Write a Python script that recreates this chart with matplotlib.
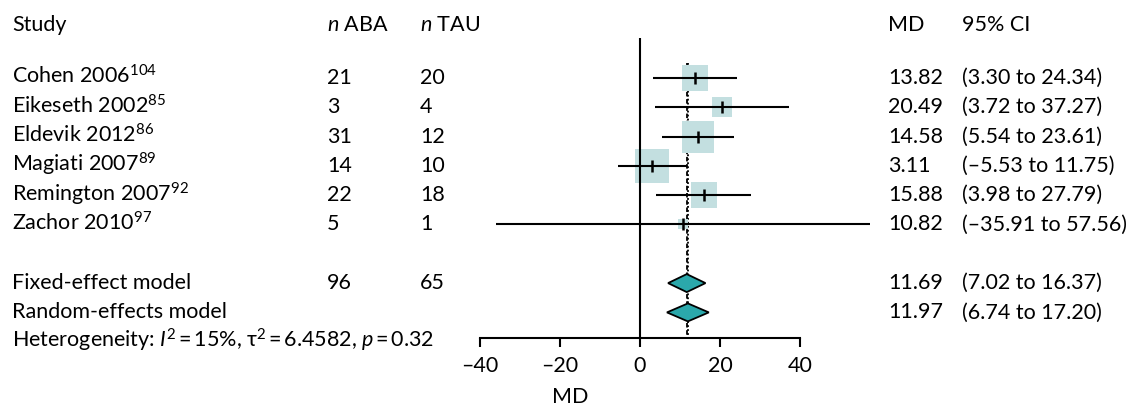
import matplotlib
matplotlib.use("Agg")
import matplotlib.pyplot as plt
from matplotlib.transforms import blended_transform_factory
from matplotlib.patches import Polygon
import numpy as np

# ---------------- data ----------------
studies = ["Cohen 2006", "Eikeseth 2002", "Eldevik 2012", "Magiati 2007",
           "Remington 2007", "Zachor 2010"]
refs = ["104", "85", "86", "89", "92", "97"]
n_aba = [21, 3, 31, 14, 22, 5]
n_tau = [20, 4, 12, 10, 18, 1]
md = [13.82, 20.49, 14.58, 3.11, 15.88, 10.82]
ci_lo = [3.30, 3.72, 5.54, -5.53, 3.98, -35.91]
ci_hi = [24.34, 37.27, 23.61, 11.75, 27.79, 57.56]
weights = [17.9, 9.8, 26.7, 27.6, 16.0, 2.0]   # % (read from square areas)

model_names = ["Fixed-effect model", "Random-effects model"]
model_md = [11.69, 11.97]
model_lo = [7.02, 6.74]
model_hi = [16.37, 17.20]
total_aba = 96
total_tau = 65
het_i2 = "15%"
het_tau2 = "6.4582"
het_p = "0.32"

tick_vals = [-40, -20, 0, 20, 40]
tick_labels = ["\u201340", "\u201320", "0", "20", "40"]

# ---------------- style ----------------
plt.rcParams['font.family'] = ['Lato', 'DejaVu Sans']
plt.rcParams['mathtext.fontset'] = 'custom'
plt.rcParams['mathtext.rm'] = 'Lato'
plt.rcParams['mathtext.it'] = 'Lato:italic'
plt.rcParams['mathtext.bf'] = 'Lato:bold'

FS = 15.5
SQ_COLOR = "#c3dfe0"
DIA_COLOR = "#2ba8ab"

W, H = 1140, 408
fig = plt.figure(figsize=(W / 100, H / 100), dpi=100)
ax = fig.add_axes([0, 0, 1, 1])

PX_PER_UNIT = 4.0
X0 = 640.0
ROW0 = 78.0
ROWH = 29.3
ax.set_xlim(-X0 / PX_PER_UNIT, (W - X0) / PX_PER_UNIT)
ax.set_ylim((H - ROW0) / ROWH, -ROW0 / ROWH)

axis_row = (338 - ROW0) / ROWH
zero_top = (38 - ROW0) / ROWH

for s in ["left", "right", "top"]:
    ax.spines[s].set_visible(False)
ax.spines["bottom"].set_position(("data", axis_row))
ax.spines["bottom"].set_bounds(tick_vals[0], tick_vals[-1])
ax.spines["bottom"].set_linewidth(1.5)
ax.set_yticks([])
ax.set_xticks(tick_vals, labels=tick_labels)
ax.tick_params(axis="x", direction="out", length=6.5, width=1.5,
               labelsize=FS, pad=6.5)
ax.set_xlabel("MD", fontsize=FS, labelpad=8)
ax.patch.set_visible(False)

# zero line
ax.plot([0, 0], [zero_top, axis_row], color="black", lw=1.5, zorder=3,
        solid_capstyle="butt")
# pooled reference lines
ax.plot([model_md[0]] * 2, [-0.5, axis_row], color="black", lw=1.3,
        ls=(0, (2.5, 1.5)), zorder=1)
ax.plot([model_md[1]] * 2, [-0.5, axis_row], color="black", lw=1.3,
        ls=(0, (1, 1.2)), zorder=1)

# studies
for i in range(len(studies)):
    side_px = 6.38 * np.sqrt(weights[i])
    ax.plot(md[i], i, marker="s", ms=side_px * 0.72, color=SQ_COLOR,
            mew=0, zorder=2, linestyle="none")
    ax.plot([ci_lo[i], ci_hi[i]], [i, i], color="black", lw=1.5, zorder=4,
            solid_capstyle="butt", clip_on=False)
    ax.plot(md[i], i, marker="|", ms=8, mew=1.8, color="black", zorder=5,
            linestyle="none")

# diamonds
n = len(studies)
model_rows = [n + 1, n + 2]
half_h = 9.0 / ROWH
for j in range(2):
    r = model_rows[j]
    poly = Polygon([[model_lo[j], r], [model_md[j], r - half_h],
                    [model_hi[j], r], [model_md[j], r + half_h]],
                   closed=True, facecolor=DIA_COLOR, edgecolor="black",
                   lw=1.3, zorder=6)
    ax.add_patch(poly)

# ---------------- text ----------------
tr = blended_transform_factory(ax.transAxes, ax.transData)
BASE = 6.0 / ROWH
THIN = "\u2009"


def fx(px):
    return px / W


def txt(px, row, s, **kw):
    ax.text(fx(px), row + BASE, s, transform=tr, fontsize=FS,
            va="baseline", ha="left", **kw)


def fmt(v):
    return f"{v:.2f}".replace("-", "\u2013")


X_STUDY, X_ABA, X_TAU, X_MD, X_CI = 12, 327, 420, 888, 962

head_row = -1.8
txt(X_STUDY, head_row, "Study")
txt(X_ABA, head_row, r"$n$ ABA")
txt(X_TAU, head_row, r"$n$ TAU")
txt(X_MD, head_row, "MD")
txt(X_CI, head_row, "95% CI")

for i in range(n):
    txt(X_STUDY, i, studies[i] + r"$^{" + refs[i] + r"}$")
    txt(X_ABA, i, str(n_aba[i]))
    txt(X_TAU, i, str(n_tau[i]))
    txt(X_MD, i, fmt(md[i]))
    txt(X_CI, i, f"({fmt(ci_lo[i])} to {fmt(ci_hi[i])})")

for j in range(2):
    r = model_rows[j]
    txt(X_STUDY, r, model_names[j])
    txt(X_MD, r, fmt(model_md[j]))
    txt(X_CI, r, f"({fmt(model_lo[j])} to {fmt(model_hi[j])})")
txt(X_ABA, model_rows[0], str(total_aba))
txt(X_TAU, model_rows[0], str(total_tau))

het_row = n + 3
eq = THIN + "=" + THIN
txt(X_STUDY, het_row,
    r"Heterogeneity: $I^{2}$" + eq + het_i2 +
    r", $\mathrm{\tau}^{2}$" + eq + het_tau2 + r", $p$" + eq + het_p)

fig.savefig("out.png", dpi=100)
